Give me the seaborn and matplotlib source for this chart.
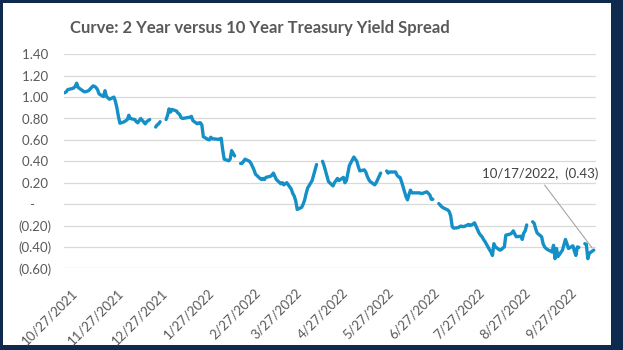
import numpy as np
import pandas as pd
import matplotlib
matplotlib.use("Agg")
import matplotlib.pyplot as plt
from matplotlib.patches import Rectangle
from matplotlib.transforms import ScaledTranslation
import seaborn as sns

title = "Curve: 2 Year versus 10 Year Treasury Yield Spread"

dates = [
    "2021-10-27", "2021-10-28", "2021-10-29",
    "2021-11-01", "2021-11-02", "2021-11-03", "2021-11-04", "2021-11-05",
    "2021-11-08", "2021-11-09", "2021-11-10", "2021-11-12",
    "2021-11-15", "2021-11-16", "2021-11-17", "2021-11-18", "2021-11-19",
    "2021-11-22", "2021-11-23", "2021-11-24", "2021-11-26",
    "2021-11-29", "2021-11-30",
    "2021-12-01", "2021-12-02", "2021-12-03",
    "2021-12-06", "2021-12-07", "2021-12-08", "2021-12-09", "2021-12-10",
    "2021-12-13", "2021-12-14", "2021-12-15", "2021-12-16", "2021-12-17",
    "2021-12-20", "2021-12-21", "2021-12-22", "2021-12-23", "2021-12-24",
    "2021-12-27", "2021-12-28", "2021-12-29", "2021-12-30", "2021-12-31",
    "2022-01-03", "2022-01-04", "2022-01-05", "2022-01-06", "2022-01-07",
    "2022-01-10", "2022-01-11", "2022-01-12", "2022-01-13", "2022-01-14",
    "2022-01-18", "2022-01-19", "2022-01-20", "2022-01-21",
    "2022-01-24", "2022-01-25", "2022-01-26", "2022-01-27", "2022-01-28",
    "2022-01-31", "2022-02-01", "2022-02-02", "2022-02-03", "2022-02-04",
    "2022-02-07", "2022-02-08", "2022-02-09", "2022-02-10", "2022-02-11",
    "2022-02-14", "2022-02-15", "2022-02-16", "2022-02-17", "2022-02-18",
    "2022-02-21", "2022-02-22", "2022-02-23", "2022-02-24", "2022-02-25",
    "2022-02-28", "2022-03-01", "2022-03-02", "2022-03-03", "2022-03-04",
    "2022-03-07", "2022-03-08", "2022-03-09", "2022-03-10", "2022-03-11",
    "2022-03-14", "2022-03-15", "2022-03-16", "2022-03-17", "2022-03-18",
    "2022-03-21", "2022-03-22", "2022-03-23", "2022-03-24", "2022-03-25",
    "2022-03-28", "2022-03-29", "2022-03-30", "2022-03-31", "2022-04-01",
    "2022-04-04", "2022-04-05", "2022-04-06", "2022-04-07", "2022-04-08",
    "2022-04-11", "2022-04-12", "2022-04-13", "2022-04-14", "2022-04-15",
    "2022-04-18", "2022-04-19", "2022-04-20", "2022-04-21", "2022-04-22",
    "2022-04-25", "2022-04-26", "2022-04-27", "2022-04-28", "2022-04-29",
    "2022-05-02", "2022-05-03", "2022-05-04", "2022-05-05", "2022-05-06",
    "2022-05-09", "2022-05-10", "2022-05-11", "2022-05-12", "2022-05-13",
    "2022-05-16", "2022-05-17", "2022-05-18", "2022-05-19", "2022-05-20",
    "2022-05-23", "2022-05-24", "2022-05-25", "2022-05-26", "2022-05-27",
    "2022-05-30", "2022-05-31", "2022-06-01", "2022-06-02", "2022-06-03",
    "2022-06-06", "2022-06-07", "2022-06-08", "2022-06-09", "2022-06-10",
    "2022-06-13", "2022-06-14", "2022-06-15", "2022-06-16", "2022-06-17",
    "2022-06-21", "2022-06-22", "2022-06-23", "2022-06-24",
    "2022-06-27", "2022-06-28", "2022-06-29", "2022-06-30", "2022-07-01",
    "2022-07-04", "2022-07-05", "2022-07-06", "2022-07-07", "2022-07-08",
    "2022-07-11", "2022-07-12", "2022-07-13", "2022-07-14", "2022-07-15",
    "2022-07-18", "2022-07-19", "2022-07-20", "2022-07-21", "2022-07-22",
    "2022-07-25", "2022-07-26", "2022-07-27", "2022-07-28", "2022-07-29",
    "2022-08-01", "2022-08-02", "2022-08-03", "2022-08-04", "2022-08-05",
    "2022-08-08", "2022-08-09", "2022-08-10", "2022-08-11", "2022-08-12",
    "2022-08-15", "2022-08-16", "2022-08-17", "2022-08-18", "2022-08-19",
    "2022-08-22", "2022-08-23", "2022-08-24", "2022-08-25", "2022-08-26",
    "2022-08-29", "2022-08-30", "2022-08-31", "2022-09-01", "2022-09-02",
    "2022-09-05", "2022-09-06", "2022-09-07", "2022-09-08", "2022-09-09",
    "2022-09-12", "2022-09-13", "2022-09-14", "2022-09-15", "2022-09-16",
    "2022-09-19", "2022-09-20", "2022-09-21", "2022-09-22", "2022-09-23",
    "2022-09-26", "2022-09-27", "2022-09-28", "2022-09-29", "2022-09-30",
    "2022-10-03", "2022-10-04", "2022-10-05", "2022-10-06", "2022-10-07",
    "2022-10-10", "2022-10-11", "2022-10-12", "2022-10-13", "2022-10-14",
    "2022-10-17",
]

spread = [
    1.04, 1.05, 1.07,
    1.08, 1.085, 1.10, 1.13, 1.09,
    1.06, 1.05, 1.05, 1.06,
    1.105, 1.10, 1.09, 1.07, 1.03,
    1.005, 1.06, 1.005, 0.98,
    1.00, 0.96,
    0.90, 0.82, 0.756,
    0.77, 0.78, 0.79, 0.83, 0.80,
    0.79, 0.77, 0.76, 0.78, 0.80,
    0.75, 0.77, 0.78, 0.79, None,
    0.72, 0.74, 0.75, 0.77, None,
    0.79, 0.83, 0.89, 0.86, 0.885,
    0.87, 0.85, 0.84, 0.81, 0.80,
    0.81, 0.81, 0.82, 0.78,
    0.75, 0.76, 0.76, 0.74, 0.63,
    0.605, 0.60, 0.625, 0.61, 0.61,
    0.605, 0.61, 0.615, 0.506, 0.42,
    0.405, 0.42, 0.50, 0.475, 0.45,
    None, 0.38, 0.38, 0.40, 0.42,
    0.40, 0.38, 0.35, 0.32, 0.28,
    0.24, 0.23, 0.24, 0.23, 0.25,
    0.26, 0.27, 0.29, 0.26, 0.23,
    0.19, 0.20, 0.18, 0.19, 0.20,
    0.14, 0.10, 0.075, 0.03, -0.05,
    -0.03, 0.00, 0.04, 0.10, 0.15,
    0.22, 0.27, 0.32, 0.37, None,
    0.40, 0.36, 0.31, 0.26, 0.21,
    0.17, 0.20, 0.22, 0.24, 0.22,
    0.25, 0.20, 0.22, 0.29, 0.36,
    0.44, 0.42, 0.40, 0.35, 0.31,
    0.32, 0.30, 0.26, 0.23, 0.21,
    0.18, 0.20, 0.23, 0.26, 0.29,
    None, 0.31, 0.29, 0.30, 0.30,
    0.30, 0.27, 0.255, 0.25, 0.21,
    0.07, 0.04, 0.09, 0.13, 0.105,
    0.105, 0.105, 0.10, 0.10,
    0.115, 0.10, 0.085, 0.045, 0.045,
    None, 0.005, -0.01, -0.025, -0.035,
    -0.055, -0.07, -0.11, -0.21, -0.225,
    -0.22, -0.21, -0.205, -0.21, -0.21,
    -0.19, -0.20, -0.195, -0.185, -0.175,
    -0.27, -0.29, -0.305, -0.33, -0.35,
    -0.425, -0.447, -0.48, -0.37, -0.40,
    -0.43, -0.425, -0.41, -0.40, -0.29,
    -0.28, -0.27, -0.25, -0.28, -0.305,
    -0.30, -0.33, -0.27, -0.25, -0.195,
    None, -0.165, -0.18, -0.23, -0.27,
    -0.305, -0.37, -0.40, -0.415, -0.425,
    -0.447, -0.385, -0.51, -0.415, -0.49,
    -0.43, -0.38, -0.33, -0.37, -0.415,
    -0.39, -0.44, -0.48, -0.40, -0.405,
    None, -0.37, -0.375, -0.51, -0.46,
    -0.43,
]

ytick_values = [1.40, 1.20, 1.00, 0.80, 0.60, 0.40, 0.20, 0.00, -0.20, -0.40, -0.60]
ytick_labels = ["1.40 ", "1.20 ", "1.00 ", "0.80 ", "0.60 ", "0.40 ", "0.20 ",
                "-     ", "(0.20)", "(0.40)", "(0.60)"]

xtick_dates = ["2021-10-27", "2021-11-27", "2021-12-27", "2022-01-27",
               "2022-02-27", "2022-03-27", "2022-04-27", "2022-05-27",
               "2022-06-27", "2022-07-27", "2022-08-27", "2022-09-27"]
xtick_labels = ["10/27/2021", "11/27/2021", "12/27/2021", "1/27/2022",
                "2/27/2022", "3/27/2022", "4/27/2022", "5/27/2022",
                "6/27/2022", "7/27/2022", "8/27/2022", "9/27/2022"]

annot_date = "2022-10-17"
annot_label = "10/17/2022,  (0.43)"

LINE = "#1590C6"
TEXT = "#595959"
GRID = "#D9D9D9"
NAVY = "#0F2A4F"

df = pd.DataFrame({"date": pd.to_datetime(dates),
                   "spread": pd.array(spread, dtype="Float64").astype(float)})
df["segment"] = df["spread"].isna().cumsum()
df = df.dropna(subset=["spread"])

sns.set_theme(style="white")
plt.rcParams["font.family"] = ["Lato", "DejaVu Sans"]

W, H = 623, 350
fig = plt.figure(figsize=(W / 100, H / 100), dpi=100)
fig.patch.set_facecolor(NAVY)
fig.patches.append(Rectangle((3 / W, 5 / H), (611 - 3) / W, (347 - 5) / H,
                             transform=fig.transFigure, facecolor="white",
                             edgecolor="none", zorder=-1))

ax = fig.add_axes([64 / W, 1 - 268.3 / H, 532 / W, (268.3 - 54.3) / H])
ax.set_facecolor("white")

sns.lineplot(data=df, x="date", y="spread", units="segment", estimator=None,
             color=LINE, linewidth=2.4, ax=ax, legend=False)

start = pd.Timestamp(dates[0])
ax.set_xlim(start - pd.Timedelta(hours=12), start + pd.Timedelta(days=356.5))
ax.set_ylim(-0.6, 1.4)
ax.set_yticks(ytick_values)
ax.set_yticklabels(ytick_labels)
ax.grid(axis="y", color=GRID, linewidth=0.9)
ax.grid(axis="x", visible=False)
ax.set_axisbelow(True)
for s in ax.spines.values():
    s.set_visible(False)

ax.set_xticks(pd.to_datetime(xtick_dates))
ax.set_xticklabels(xtick_labels, rotation=45, ha="right", va="top",
                   rotation_mode="anchor")
ax.tick_params(axis="x", length=0, pad=13, labelsize=9.5, labelcolor=TEXT)
ax.tick_params(axis="y", length=0, pad=9, labelsize=9.5, labelcolor=TEXT)
for lbl in ax.get_xticklabels():
    lbl.set_transform(lbl.get_transform() + ScaledTranslation(6 / 100, 0, fig.dpi_scale_trans))

ax.set_xlabel("")
ax.set_ylabel("")

fig.text(260 / W, 1 - 27.5 / H, title, ha="center", va="center",
         fontsize=12, fontweight="bold", color=TEXT)

last_val = df.loc[df["date"] == pd.Timestamp(annot_date), "spread"].iloc[0]
ax.annotate(annot_label, xy=(pd.Timestamp(annot_date), last_val),
            xytext=(540.5, H - 173.3), textcoords="figure pixels",
            ha="center", va="center", fontsize=9.5, color="#404040",
            arrowprops=dict(arrowstyle="-", color="#A6A6A6", lw=0.8,
                            shrinkA=2, shrinkB=2, relpos=(0.5, 0)))

fig.savefig("out.png", dpi=100)
